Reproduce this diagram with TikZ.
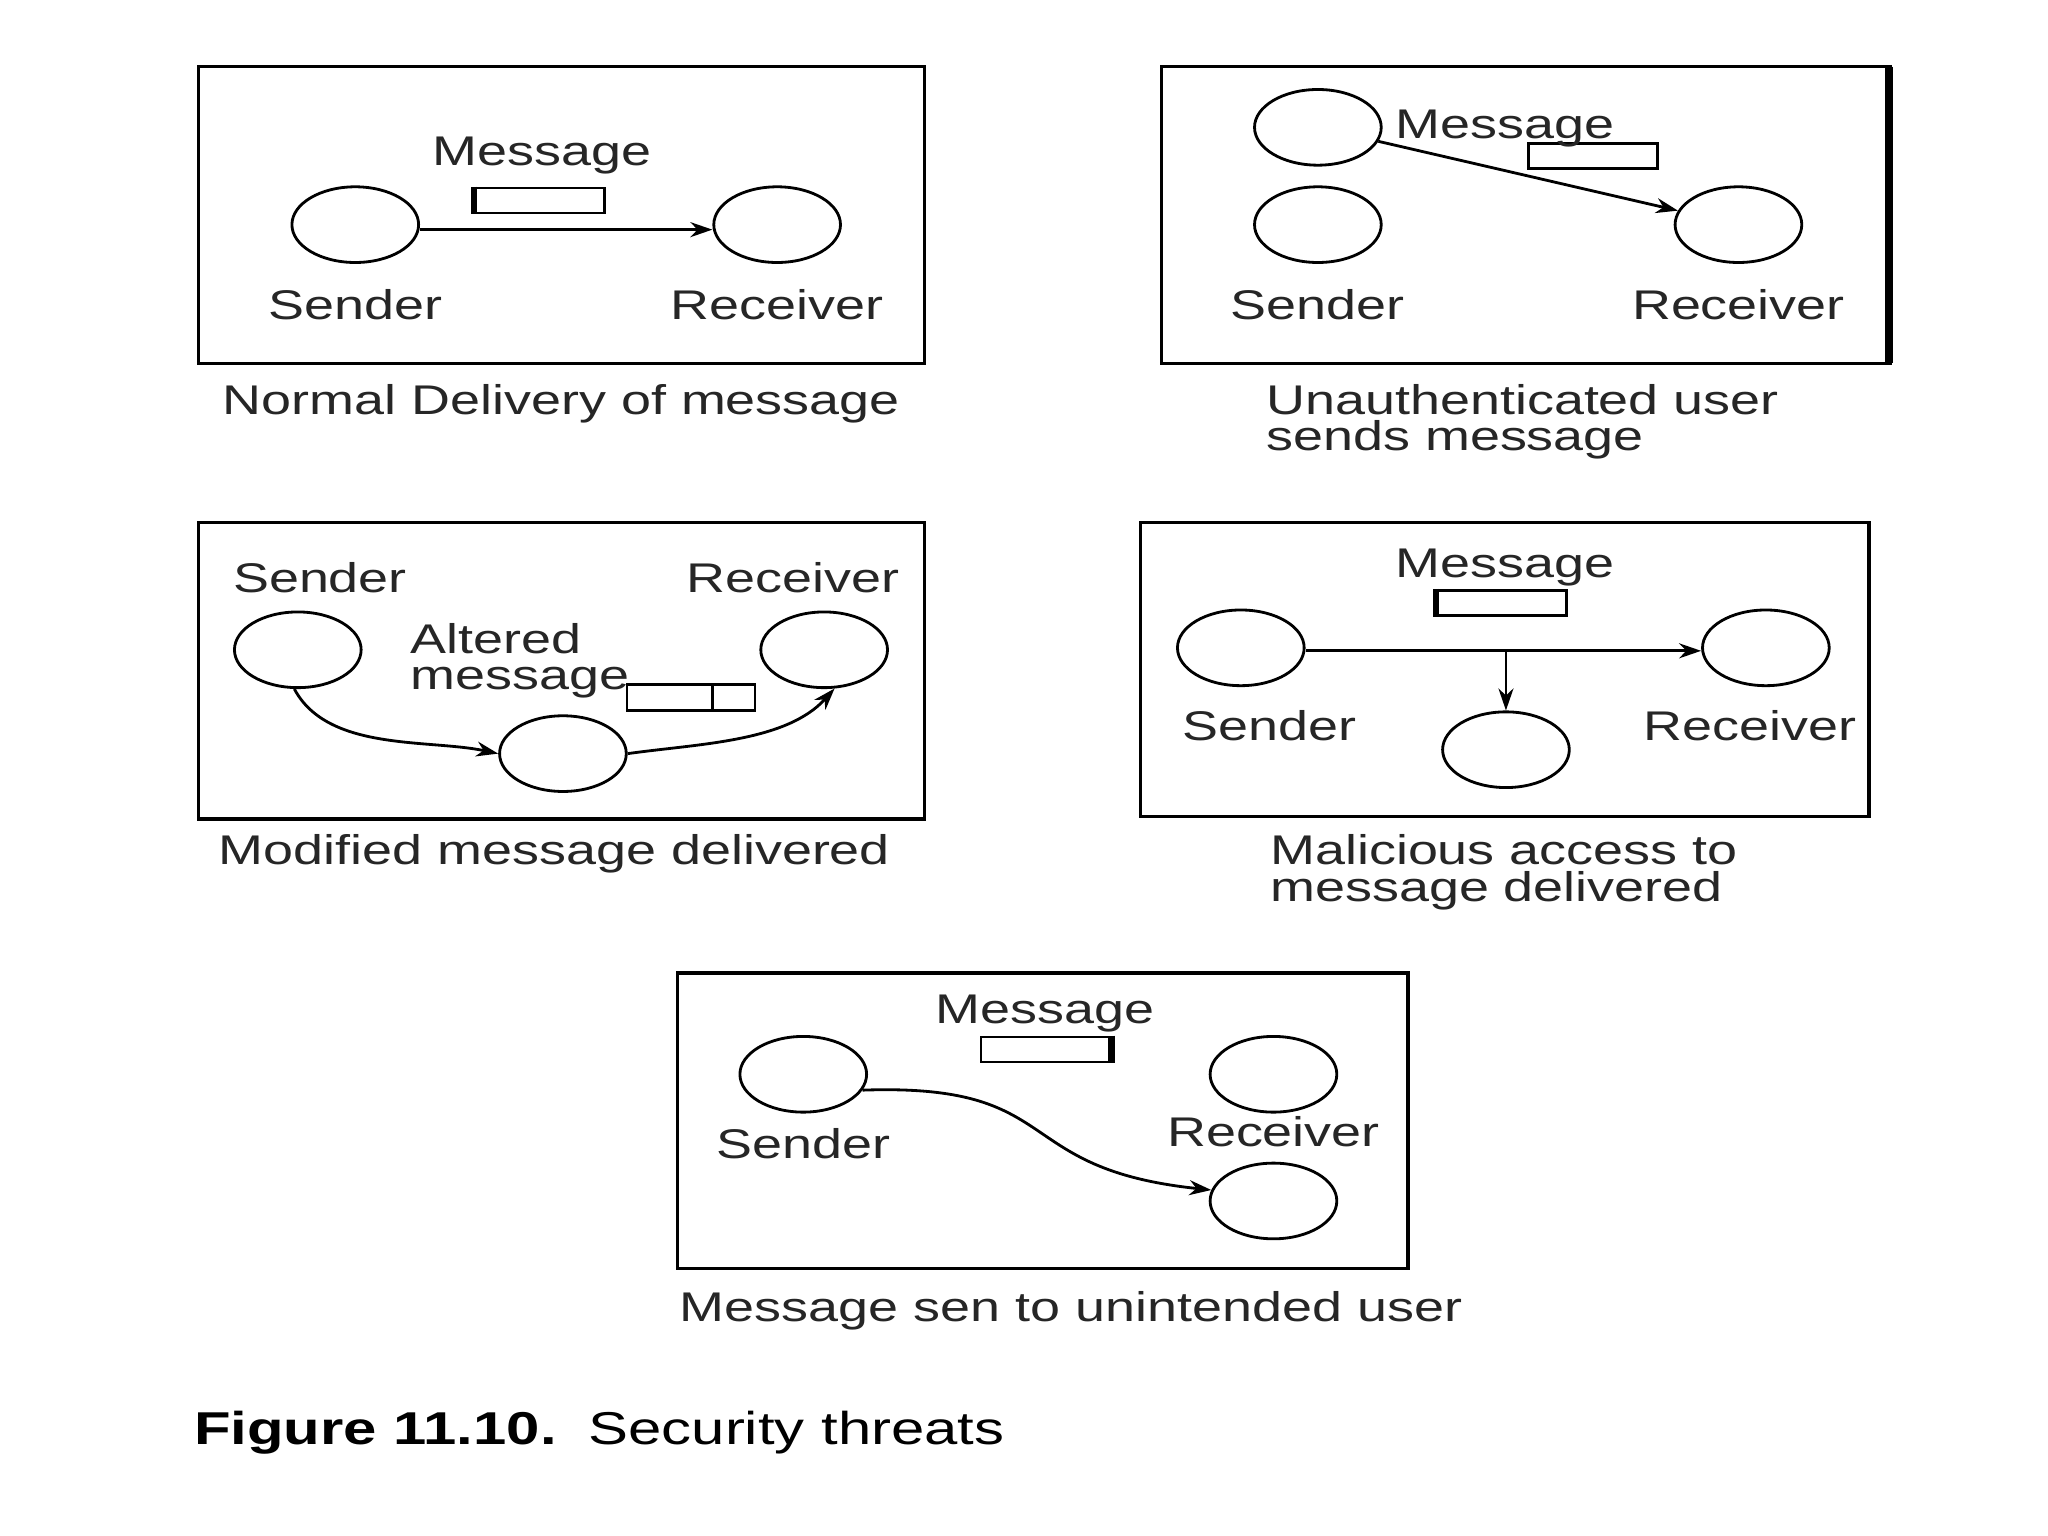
\documentclass[tikz,border=0pt]{standalone}
\usepackage{fontspec}
\setmainfont{Liberation Sans}[FakeStretch=1.3]
\usetikzlibrary{arrows.meta,shapes.geometric,calc}
\tikzset{
  panel/.style={draw, line width=0.9pt},
  blob/.style={ellipse, draw, line width=0.8pt, minimum width=1.267cm, minimum height=0.757cm, inner sep=0pt},
  msg/.style={rectangle, draw, line width=0.8pt, minimum width=1.293cm, minimum height=0.25cm, inner sep=0pt},
  lbl/.style={font=\fontsize{11.8}{14}\selectfont, inner sep=0pt, anchor=base, text=black!85},
  lbll/.style={lbl, anchor=base west},
  conn/.style={line width=0.8pt, -{Stealth[length=2.2mm,width=1.5mm]}},
  thickedge/.style={line width=1.8pt}
}
\begin{document}
\begin{tikzpicture}[x=0.01306cm, y=-0.01306cm]
\path[use as bounding box, fill=white] (0,0) rectangle (1568,1176);

% ---------- Panel 1 ----------
\draw[panel] (152,51) rectangle (708,278);
\node[blob] (s1) at (272,172) {};
\node[blob] (r1) at (595,172) {};
\node[msg] (m1) at (413.5,153.5) {};
\draw[thickedge] (m1.north west) -- (m1.south west);
\draw[conn] ([yshift=-0.05cm]s1.east) -- ([yshift=-0.05cm]r1.west);
\node[lbl] (t1) at (415,127) {Message};
\node[lbl] (ts1) at (272,245) {Sender};
\node[lbl] (tr1) at (595,245) {Receiver};
\node[lbll] (c1) at (170,317) {Normal Delivery of message};

% ---------- Panel 2 ----------
\draw[panel] (889,51) rectangle (1447,278);
\draw[line width=2.2pt] (1446,51) -- (1446,278);
\node[blob] (u2) at (1009,97.5) {};
\node[blob] (s2) at (1009,172) {};
\node[blob] (r2) at (1331,172) {};
\node[msg] (m2) at (1219.5,119.5) {};
\draw[conn] (u2) -- (r2);
\node[lbll] (t2) at (1068,106) {Message};
\node[lbl] (ts2) at (1009,245) {Sender};
\node[lbl] (tr2) at (1331,245) {Receiver};
\node[lbll] (c2a) at (969,317) {Unauthenticated user};
\node[lbll] (c2b) at (969,345) {sends message};

% ---------- Panel 3 ----------
\draw[panel] (152,400) rectangle (708,627);
\node[blob] (s3) at (228,497.5) {};
\node[blob] (r3) at (631,497.5) {};
\node[blob] (x3) at (431,577) {};
\node[msg, minimum width=1.28cm, minimum height=0.261cm] (m3) at (529,534) {};
\draw[line width=0.8pt] ($(m3.north west)!0.663!(m3.north east)$) -- ($(m3.south west)!0.663!(m3.south east)$);
\draw[conn] (s3.-95) to[out=-62,in=168,looseness=0.85] (x3.west);
\draw[conn] (x3.east) to[out=8,in=-132,looseness=0.85] (r3.-75);
\node[lbl] (ts3) at (245,454) {Sender};
\node[lbl] (tr3) at (607,454) {Receiver};
\node[lbll] (ta3) at (314,500) {Altered};
\node[lbll] (tb3) at (314,528) {message};
\node[lbll] (c3) at (167,662) {Modified message delivered};

% ---------- Panel 4 ----------
\draw[panel] (873,400) rectangle (1431,625);
\node[blob] (s4) at (950,496) {};
\node[blob] (r4) at (1352,496) {};
\node[blob] (x4) at (1153,574) {};
\node[msg] (m4) at (1150,461.5) {};
\draw[thickedge] (m4.north west) -- (m4.south west);
\draw[conn] ([yshift=-0.03cm]s4.east) -- ([yshift=-0.03cm]r4.west);
\coordinate (j4) at (1153,498.3);
\draw[conn] (j4) -- (x4.north);
\node[lbl] (t4) at (1152,442) {Message};
\node[lbl] (ts4) at (972,567) {Sender};
\node[lbl] (tr4) at (1340,567) {Receiver};
\node[lbll] (c4a) at (972,662) {Malicious access to};
\node[lbll] (c4b) at (972,690) {message delivered};

% ---------- Panel 5 ----------
\draw[panel] (519,745) rectangle (1078,971);
\node[blob] (s5) at (615,822.5) {};
\node[blob] (r5) at (975,822.5) {};
\node[blob] (x5) at (975,919.5) {};
\node[msg] (m5) at (800.5,803.5) {};
\draw[thickedge] (m5.north east) -- (m5.south east);
\draw[conn] (s5.-15) to[out=2,in=174,looseness=1.45] (x5.170);
\node[lbl] (t5) at (800,784) {Message};
\node[lbl] (ts5) at (615,887) {Sender};
\node[lbl] (tr5) at (975,878) {Receiver};
\node[lbll] (c5) at (520,1012) {Message sen to unintended user};

% ---------- Figure caption ----------
\node[lbll, font=\fontsize{13.1}{15}\selectfont, text=black] (fig) at (148,1106) {\textbf{Figure 11.10.}\hspace{0.32cm}Security threats};
\end{tikzpicture}
\end{document}
